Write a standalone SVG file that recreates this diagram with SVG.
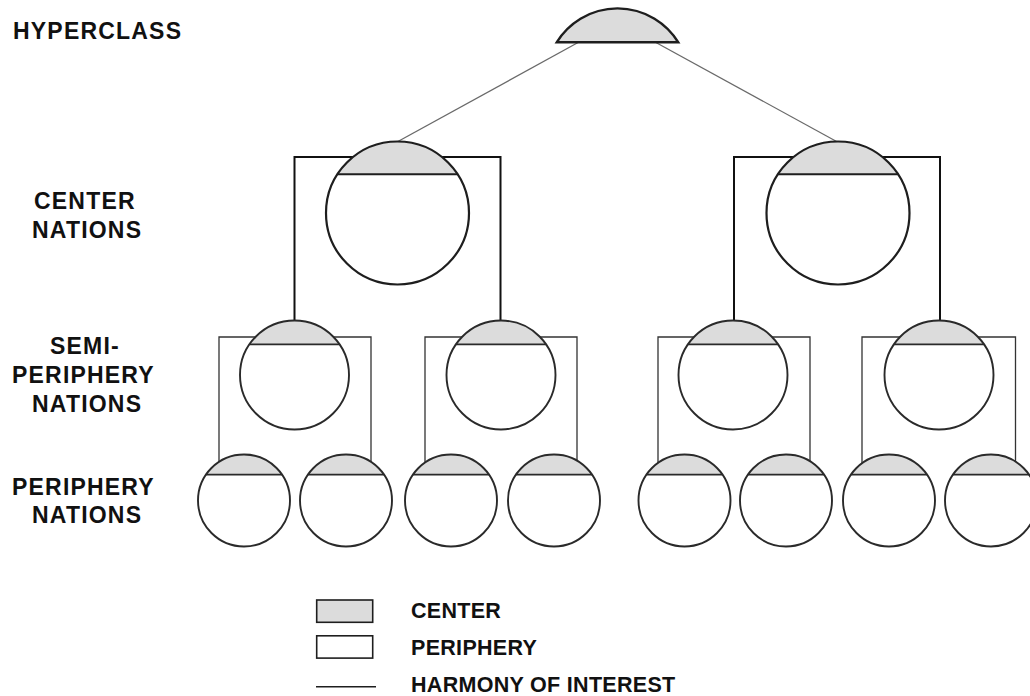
<svg xmlns="http://www.w3.org/2000/svg" width="1030" height="696" viewBox="0 0 1030 696">
  <style>
    .lbl { font-family: "Liberation Sans", Arial, sans-serif; font-weight: bold; font-size: 23px; letter-spacing: 1.2px; fill: #111; }
    .leg { font-family: "Liberation Sans", Arial, sans-serif; font-weight: bold; font-size: 21.5px; letter-spacing: 0.3px; fill: #111; }
    .cap { fill: #dcdcdc; stroke: none; }
    .ring { fill: none; stroke: #1e1e1e; stroke-width: 2.2; }
    .ring-s { fill: none; stroke: #2a2a2a; stroke-width: 1.9; }
    .chord { stroke: #1e1e1e; stroke-width: 2; }
    .chord-s { stroke: #2a2a2a; stroke-width: 1.7; }
    .body { fill: #fff; stroke: none; }
    .link-top { stroke: #6a6a6a; stroke-width: 1.3; fill: none; }
    .bracket-c { stroke: #111; stroke-width: 2; fill: none; }
    .bracket-s { stroke: #333; stroke-width: 1.3; fill: none; }
  </style>

  <!-- level labels -->
  <g id="labels">
    <text class="lbl" x="13" y="38.5">HYPERCLASS</text>
    <text class="lbl" x="34" y="208.5">CENTER</text>
    <text class="lbl" x="32" y="237.5">NATIONS</text>
    <text class="lbl" x="50" y="353.5">SEMI-</text>
    <text class="lbl" x="12" y="382.5">PERIPHERY</text>
    <text class="lbl" x="32" y="411.5">NATIONS</text>
    <text class="lbl" x="12" y="494.8">PERIPHERY</text>
    <text class="lbl" x="32" y="523">NATIONS</text>
  </g>

  <!-- connectors -->
  <g id="connectors">
    <line class="link-top" x1="579" y1="42" x2="397" y2="142"/>
    <line class="link-top" x1="655" y1="42" x2="837.5" y2="142"/>
    <path class="bracket-c" d="M294.5,321 V157 H500.5 V321"/>
    <path class="bracket-c" d="M734,321 V157 H940 V321"/>
    <path class="bracket-s" d="M219,463 V337 H371 V462"/>
    <path class="bracket-s" d="M425,463 V337 H577 V462"/>
    <path class="bracket-s" d="M658,463 V337 H810 V462"/>
    <path class="bracket-s" d="M862,463 V337 H1015.5 V462"/>
  </g>

  <!-- hyperclass -->
  <g id="hyperclass">
    <path d="M556.7,42.3 A71.4,71.4 0 0 1 678.3,42.3 Z" fill="#dcdcdc" stroke="#1e1e1e" stroke-width="2.4" stroke-linejoin="miter"/>
  </g>

  <!-- center nations: r 71.5, chord 38.7 above centre -->
  <g id="center-1">
    <circle class="body" cx="397.5" cy="213" r="71.5"/>
    <path class="cap" d="M337.4,174.3 A71.5,71.5 0 0 1 457.6,174.3 Z"/>
    <line class="chord" x1="337.4" y1="174.3" x2="457.6" y2="174.3"/>
    <circle class="ring" cx="397.5" cy="213" r="71.5"/>
  </g>
  <g id="center-2">
    <circle class="body" cx="838" cy="213" r="71.5"/>
    <path class="cap" d="M777.9,174.3 A71.5,71.5 0 0 1 898.1,174.3 Z"/>
    <line class="chord" x1="777.9" y1="174.3" x2="898.1" y2="174.3"/>
    <circle class="ring" cx="838" cy="213" r="71.5"/>
  </g>

  <!-- semi-periphery nations: r 54.5, chord 30.7 above centre -->
  <g id="semi-1">
    <circle class="body" cx="294.5" cy="375" r="54.5"/>
    <path class="cap" d="M249.5,344.3 A54.5,54.5 0 0 1 339.5,344.3 Z"/>
    <line class="chord-s" x1="249.5" y1="344.3" x2="339.5" y2="344.3"/>
    <circle class="ring-s" cx="294.5" cy="375" r="54.5"/>
  </g>
  <g id="semi-2">
    <circle class="body" cx="501" cy="375" r="54.5"/>
    <path class="cap" d="M456,344.3 A54.5,54.5 0 0 1 546,344.3 Z"/>
    <line class="chord-s" x1="456" y1="344.3" x2="546" y2="344.3"/>
    <circle class="ring-s" cx="501" cy="375" r="54.5"/>
  </g>
  <g id="semi-3">
    <circle class="body" cx="733" cy="375" r="54.5"/>
    <path class="cap" d="M688,344.3 A54.5,54.5 0 0 1 778,344.3 Z"/>
    <line class="chord-s" x1="688" y1="344.3" x2="778" y2="344.3"/>
    <circle class="ring-s" cx="733" cy="375" r="54.5"/>
  </g>
  <g id="semi-4">
    <circle class="body" cx="939" cy="375" r="54.5"/>
    <path class="cap" d="M894,344.3 A54.5,54.5 0 0 1 984,344.3 Z"/>
    <line class="chord-s" x1="894" y1="344.3" x2="984" y2="344.3"/>
    <circle class="ring-s" cx="939" cy="375" r="54.5"/>
  </g>

  <!-- periphery nations: r 46, chord 25.8 above centre -->
  <g id="periphery-1">
    <circle class="body" cx="244" cy="500.5" r="46"/>
    <path class="cap" d="M205.9,474.7 A46,46 0 0 1 282.1,474.7 Z"/>
    <line class="chord-s" x1="205.9" y1="474.7" x2="282.1" y2="474.7"/>
    <circle class="ring-s" cx="244" cy="500.5" r="46"/>
  </g>
  <g id="periphery-2">
    <circle class="body" cx="346" cy="500.5" r="46"/>
    <path class="cap" d="M307.9,474.7 A46,46 0 0 1 384.1,474.7 Z"/>
    <line class="chord-s" x1="307.9" y1="474.7" x2="384.1" y2="474.7"/>
    <circle class="ring-s" cx="346" cy="500.5" r="46"/>
  </g>
  <g id="periphery-3">
    <circle class="body" cx="451" cy="500.5" r="46"/>
    <path class="cap" d="M412.9,474.7 A46,46 0 0 1 489.1,474.7 Z"/>
    <line class="chord-s" x1="412.9" y1="474.7" x2="489.1" y2="474.7"/>
    <circle class="ring-s" cx="451" cy="500.5" r="46"/>
  </g>
  <g id="periphery-4">
    <circle class="body" cx="554" cy="500.5" r="46"/>
    <path class="cap" d="M515.9,474.7 A46,46 0 0 1 592.1,474.7 Z"/>
    <line class="chord-s" x1="515.9" y1="474.7" x2="592.1" y2="474.7"/>
    <circle class="ring-s" cx="554" cy="500.5" r="46"/>
  </g>
  <g id="periphery-5">
    <circle class="body" cx="684.5" cy="500.5" r="46"/>
    <path class="cap" d="M646.4,474.7 A46,46 0 0 1 722.6,474.7 Z"/>
    <line class="chord-s" x1="646.4" y1="474.7" x2="722.6" y2="474.7"/>
    <circle class="ring-s" cx="684.5" cy="500.5" r="46"/>
  </g>
  <g id="periphery-6">
    <circle class="body" cx="786" cy="500.5" r="46"/>
    <path class="cap" d="M747.9,474.7 A46,46 0 0 1 824.1,474.7 Z"/>
    <line class="chord-s" x1="747.9" y1="474.7" x2="824.1" y2="474.7"/>
    <circle class="ring-s" cx="786" cy="500.5" r="46"/>
  </g>
  <g id="periphery-7">
    <circle class="body" cx="889" cy="500.5" r="46"/>
    <path class="cap" d="M850.9,474.7 A46,46 0 0 1 927.1,474.7 Z"/>
    <line class="chord-s" x1="850.9" y1="474.7" x2="927.1" y2="474.7"/>
    <circle class="ring-s" cx="889" cy="500.5" r="46"/>
  </g>
  <g id="periphery-8">
    <circle class="body" cx="991" cy="500.5" r="46"/>
    <path class="cap" d="M952.9,474.7 A46,46 0 0 1 1029.1,474.7 Z"/>
    <line class="chord-s" x1="952.9" y1="474.7" x2="1029.1" y2="474.7"/>
    <circle class="ring-s" cx="991" cy="500.5" r="46"/>
  </g>

  <!-- legend -->
  <g id="legend">
    <rect x="316.7" y="600" width="56" height="22.3" fill="#dcdcdc" stroke="#1e1e1e" stroke-width="1.6"/>
    <rect x="316.7" y="635.8" width="56" height="22.3" fill="#fff" stroke="#1e1e1e" stroke-width="1.6"/>
    <line x1="316" y1="686.7" x2="376" y2="686.7" stroke="#1e1e1e" stroke-width="1.6"/>
    <text class="leg" x="411" y="618.3">CENTER</text>
    <text class="leg" x="411" y="655">PERIPHERY</text>
    <text class="leg" x="411" y="691.7">HARMONY OF INTEREST</text>
  </g>
</svg>
